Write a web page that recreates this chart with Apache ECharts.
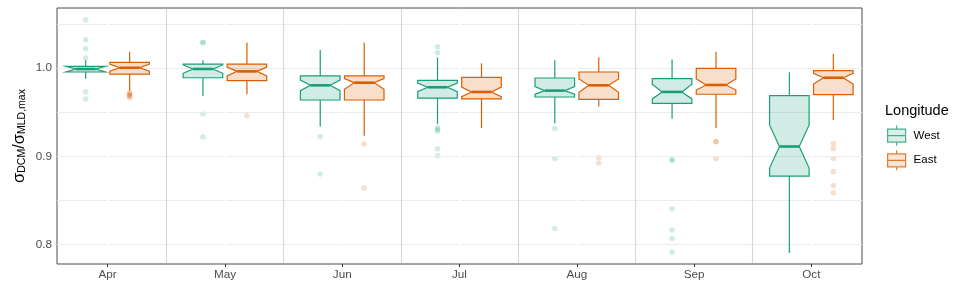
<!DOCTYPE html>
<html><head><meta charset="utf-8">
<script src="https://cdn.jsdelivr.net/npm/echarts@6/dist/echarts.min.js"></script>
<style>html,body{margin:0;padding:0;background:#fff}#c{width:955px;height:290px}</style>
</head><body><div id="c"></div>
<script>
const months = ['Apr','May','Jun','Jul','Aug','Sep','Oct'];
const yTickValues = [0.8, 0.9, 1.0];
const yGridValues = [0.8, 0.85, 0.9, 0.95, 1.0, 1.05];
// each row: [whiskerLow, q1, notchLow, median, notchHigh, q3, whiskerHigh]
const westBox = [
 [0.9879,0.9955,0.9955,0.9989,1.0019,1.0019,1.0087],
 [0.9684,0.9890,0.9940,0.9989,1.0035,1.0045,1.0087],
 [0.9337,0.9638,0.9744,0.9804,0.9864,0.9910,1.0203],
 [0.9367,0.9658,0.9732,0.9782,0.9830,0.9861,1.0120],
 [0.9375,0.9672,0.9703,0.9744,0.9789,0.9887,1.0087],
 [0.9424,0.9600,0.9650,0.9729,0.9816,0.9879,1.0098],
 [0.7906,0.8776,0.8867,0.9111,0.9356,0.9687,0.9951]
];
const eastBox = [
 [0.9744,0.9932,0.9963,1.0003,1.0045,1.0064,1.0184],
 [0.9703,0.9857,0.9910,0.9962,1.0010,1.0045,1.0290],
 [0.9232,0.9638,0.9760,0.9834,0.9880,0.9910,1.0290],
 [0.9319,0.9650,0.9676,0.9729,0.9785,0.9895,1.0053],
 [0.9563,0.9646,0.9725,0.9804,0.9876,0.9955,1.0121],
 [0.9322,0.9703,0.9751,0.9808,0.9876,0.9997,1.0184],
 [0.9412,0.9699,0.9819,0.9890,0.9940,0.9970,1.0162]
];
const westOut = [
 [1.0546,1.032,1.0218,1.0113,0.9732,0.965],
 [1.029,1.029,0.948,0.922],
 [0.9224,0.880],
 [1.024,1.0173,0.9326,0.9300,0.9288,0.9085,0.9006],
 [0.9314,0.8975,0.8181],
 [0.896,0.8955,0.8407,0.8166,0.8068,0.7913],
 []
];
const eastOut = [
 [0.972,0.971,0.970,0.969,0.968,0.966],
 [0.9458],
 [0.9138,0.864],
 [],
 [0.8987,0.8923],
 [0.9167,0.9165,0.8975],
 [0.9145,0.9088,0.8975,0.8828,0.867,0.8588]
];

const Y_MIN = 0.778, Y_MAX = 1.068;
const groups = [
 {name:'West', box:westBox, out:westOut, off:-0.1875, stroke:'#1b9e77', fill:'rgba(27,158,119,0.2)', pt:'rgba(27,158,119,0.25)'},
 {name:'East', box:eastBox, out:eastOut, off:0.1875, stroke:'#d95f02', fill:'rgba(217,95,2,0.2)', pt:'rgba(217,95,2,0.25)'}
];
const FONT = '"Liberation Sans", Arial, sans-serif';
const BOXW = 0.3375;
const keyPath = 'path://M9,0L9,3.5M0,3.5L18,3.5L18,16.5L0,16.5ZM0,10L18,10M9,16.5L9,20';

function makeRender(stroke, fill) {
  return function (params, api) {
    const x = api.value(0);
    const c = (v) => api.coord([x, v]);
    const cx = c(api.value(4))[0];
    const hw = api.size([BOXW, 0])[0] / 2;
    const L = cx - hw, R = cx + hw, inset = hw * 0.5;
    const y = (i) => c(api.value(i))[1];
    const wlo = y(1), q1 = y(2), nlo = y(3), med = y(4), nhi = y(5), q3 = y(6), whi = y(7);
    const lw = 1.2;
    return {
      type: 'group',
      children: [
        {type:'line', shape:{x1:cx,y1:q3,x2:cx,y2:whi}, style:{stroke:stroke,lineWidth:lw}},
        {type:'line', shape:{x1:cx,y1:q1,x2:cx,y2:wlo}, style:{stroke:stroke,lineWidth:lw}},
        {type:'polygon', shape:{points:[[L,q3],[R,q3],[R,nhi],[R-inset,med],[R,nlo],[R,q1],[L,q1],[L,nlo],[L+inset,med],[L,nhi]]},
          style:{fill:fill, stroke:stroke, lineWidth:lw, lineJoin:'miter'}},
        {type:'line', shape:{x1:L+inset,y1:med,x2:R-inset,y2:med}, style:{stroke:stroke,lineWidth:2.6}}
      ]
    };
  };
}

const vSeg = (xv) => [{coord:[xv, Y_MIN + 0.0012]}, {coord:[xv, Y_MAX - 0.0012]}];

const series = [];
series.push({
  type:'scatter', data:[], silent:true, z:1,
  markLine:{silent:true, symbol:'none', label:{show:false}, animation:false,
    lineStyle:{color:'#ebebeb', width:1.1, type:'solid'},
    data: yGridValues.map(v=>({yAxis:v}))}
});
series.push({
  type:'scatter', data:[], silent:true, z:2,
  markLine:{silent:true, symbol:'none', label:{show:false}, animation:false,
    lineStyle:{color:'#ffffff', width:1.6, type:'solid'},
    data: months.map((m,i)=>vSeg(i))}
});
series.push({
  type:'scatter', data:[], silent:true, z:3,
  markLine:{silent:true, symbol:'none', label:{show:false}, animation:false,
    lineStyle:{color:'#d6d6d6', width:1.1, type:'solid'},
    data: months.slice(1).map((m,i)=>vSeg(i+0.5))}
});
groups.forEach(g => {
  series.push({
    name:g.name, type:'scatter', z:4, symbolSize:5.5,
    itemStyle:{color:g.pt},
    data: g.out.flatMap((arr,i)=>arr.map(v=>[i+g.off, v]))
  });
  series.push({
    name:g.name, type:'custom', z:5,
    itemStyle:{color:g.fill, borderColor:g.stroke, borderWidth:1.2},
    renderItem: makeRender(g.stroke, g.fill),
    encode:{x:0, y:[1,2,3,4,5,6,7]},
    data: g.box.map((r,i)=>[i+g.off, ...r])
  });
});

const chart = echarts.init(document.getElementById('c'), null, {renderer:'canvas'});
chart.setOption({
  animation:false,
  textStyle:{fontFamily:FONT},
  grid:{left:57, right:93, top:8, bottom:26, show:true, borderColor:'#4d4d4d', borderWidth:1, backgroundColor:'transparent', containLabel:false, outerBoundsMode:'none'},
  xAxis:{type:'value', min:-0.432, max:6.432,
    axisLine:{show:false}, splitLine:{show:false},
    axisTick:{show:true, customValues:months.map((m,i)=>i), length:3, lineStyle:{color:'#333'}},
    axisLabel:{customValues:months.map((m,i)=>i), formatter:(v)=>months[Math.round(v)], color:'#4d4d4d', fontSize:11.7, fontFamily:FONT, margin:5}
  },
  yAxis:{type:'value', min:Y_MIN, max:Y_MAX,
    axisLine:{show:false}, splitLine:{show:false},
    axisTick:{show:true, customValues:yTickValues, length:3, lineStyle:{color:'#333'}},
    axisLabel:{customValues:yTickValues, formatter:(v)=>v.toFixed(1), color:'#4d4d4d', fontSize:11.7, fontFamily:FONT, margin:5}
  },
  title:{text:'Longitude', left:885, top:103, padding:0, textStyle:{fontSize:14.5, fontWeight:'normal', color:'#000', fontFamily:FONT}},
  legend:{orient:'vertical', left:887, top:125, padding:0, itemWidth:18, itemHeight:20, itemGap:3.5,
    textStyle:{fontSize:11.5, color:'#000', fontFamily:FONT, padding:[0,0,0,3]},
    data: groups.map(g=>({name:g.name, icon:keyPath, itemStyle:{color:g.fill, borderColor:g.stroke, borderWidth:1.2}}))
  },
  graphic:[{
    type:'text', x:19, y:136, rotation:Math.PI/2,
    style:{
      text:'{a|σ}{b|DCM}{a|/σ}{b|MLD,max}',
      align:'center', verticalAlign:'middle', fill:'#000', fontFamily:FONT,
      rich:{
        a:{fontSize:16.5, lineHeight:17, verticalAlign:'top', fontFamily:FONT, fill:'#000'},
        b:{fontSize:10.5, lineHeight:11, padding:[9,0,0,0], verticalAlign:'bottom', fontFamily:FONT, fill:'#000'}
      }
    }
  }],
  series: series
});
</script>
</body></html>
